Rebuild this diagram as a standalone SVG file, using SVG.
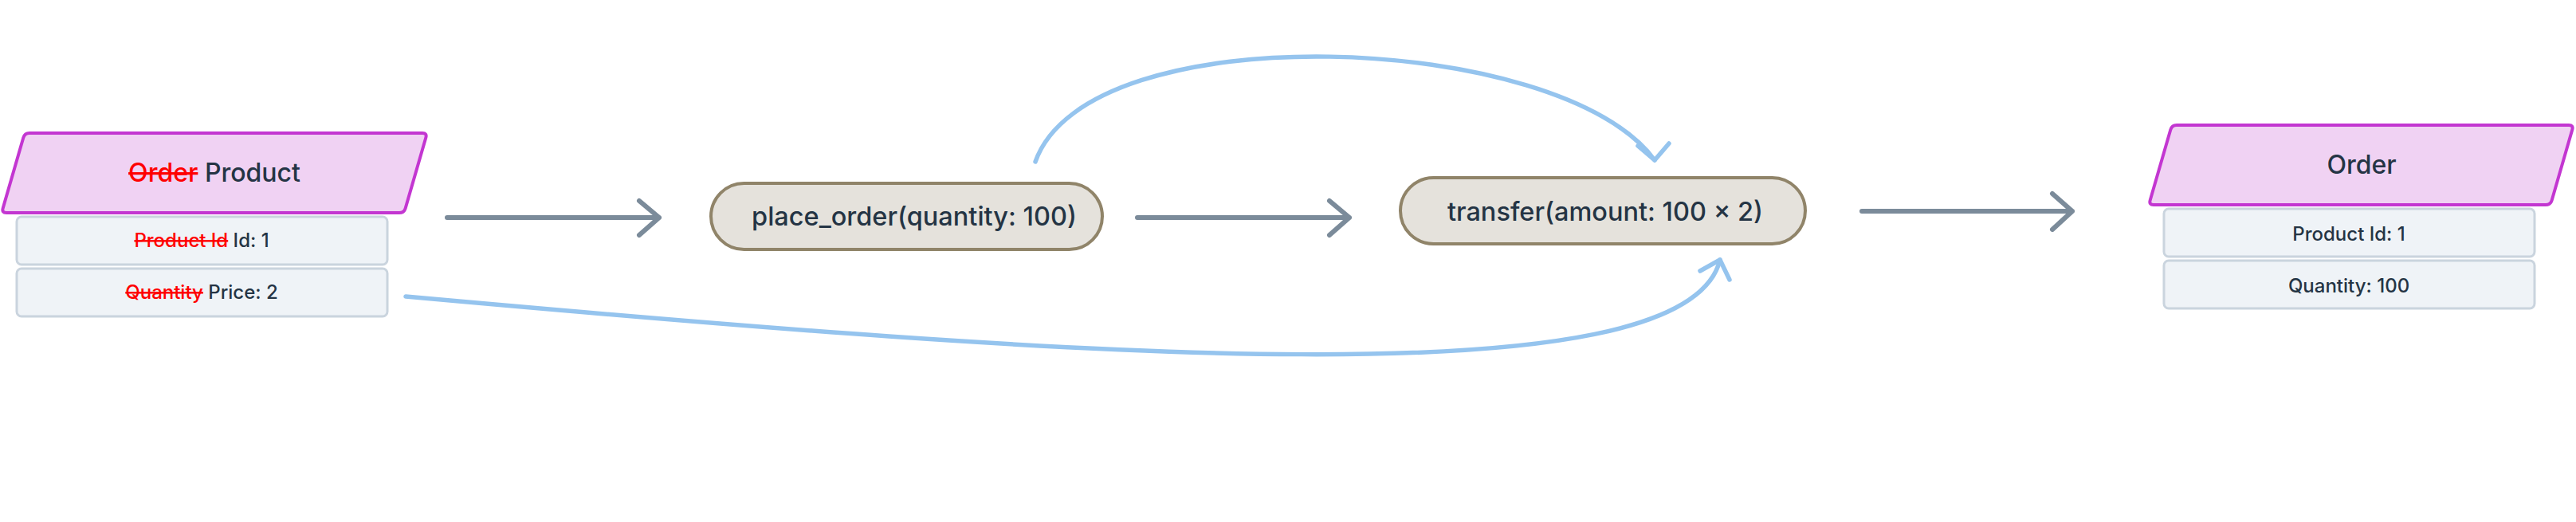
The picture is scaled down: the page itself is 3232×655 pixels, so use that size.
<svg xmlns="http://www.w3.org/2000/svg" width="3232" height="655" viewBox="0 0 3232 655">
<style>
text{font-family:Inter,"Noto Sans","Liberation Sans",sans-serif;font-weight:500;fill:#243444;text-anchor:middle}
.title{font-size:32px}
.row{font-size:24px}
.fn{font-size:32.5px}
.del{fill:#ff0000;text-decoration:line-through}
.para{fill:#f0d2f3;stroke:#c336d1;stroke-width:4}
.rowbox{fill:#eff3f7;stroke:#cad4de;stroke-width:3}
.pill{fill:#e5e2dc;stroke:#908469;stroke-width:4}
.flow{fill:none;stroke:#7b8b9a;stroke-width:6;stroke-linecap:round;stroke-linejoin:round}
.data{fill:none;stroke:#95c4ee;stroke-width:5.5;stroke-linecap:round;stroke-linejoin:round}
</style>
<rect width="3232" height="655" fill="#ffffff"/>
<g id="connectors">
<path class="flow" d="M561,273 L827,273 M802,252 L827,273 L802,295"/>
<path class="flow" d="M1427,273 L1693,273 M1668,252 L1693,273 L1668,295"/>
<path class="flow" d="M2336,265 L2600,265 M2575,243 L2600,265 L2575,288"/>
<path class="data" d="M1299,203 C1365,15 1960,40 2076,201"/>
<path class="data" d="M2055,183 L2076,201 L2094,180"/>
<path class="data" d="M509,372 C1350,448 2115,505 2158,326"/>
<path class="data" d="M2133,340 L2158,326 L2170,351"/>
</g>
<g id="product">
<path class="para" d="M37,167 L530,167 Q536,167 534.3,172.8 L508.7,261.2 Q507,267 501,267 L8,267 Q2,267 3.7,261.2 L29.3,172.8 Q31,167 37,167 Z"/>
<text class="title" x="269" y="228"><tspan class="del">Order</tspan> Product</text>
</g>
<g id="product-id">
<rect class="rowbox" x="21" y="272" width="465" height="60" rx="6"/>
<text class="row" x="253" y="310"><tspan class="del">Product Id</tspan> Id: 1</text>
</g>
<g id="product-price">
<rect class="rowbox" x="21" y="337" width="465" height="60" rx="6"/>
<text class="row" x="253" y="375"><tspan class="del">Quantity</tspan> Price: 2</text>
</g>
<g id="place-order">
<rect class="pill" x="892" y="230" width="491" height="83" rx="41.5"/>
<text class="fn" x="1147" y="283">place_order(quantity: 100)</text>
</g>
<g id="transfer">
<rect class="pill" x="1757" y="223" width="508" height="83" rx="41.5"/>
<text class="fn" x="2014" y="277">transfer(amount: 100 × 2)</text>
</g>
<g id="order">
<path class="para" d="M2731,157 L3223,157 Q3229,157 3227.3,162.8 L3201.7,251.2 Q3200,257 3194,257 L2702,257 Q2696,257 2697.7,251.2 L2723.3,162.8 Q2725,157 2731,157 Z"/>
<text class="title" x="2963" y="218">Order</text>
</g>
<g id="order-product-id">
<rect class="rowbox" x="2715" y="262" width="465" height="60" rx="6"/>
<text class="row" x="2947" y="302">Product Id: 1</text>
</g>
<g id="order-quantity">
<rect class="rowbox" x="2715" y="327" width="465" height="60" rx="6"/>
<text class="row" x="2947" y="367">Quantity: 100</text>
</g>
</svg>
